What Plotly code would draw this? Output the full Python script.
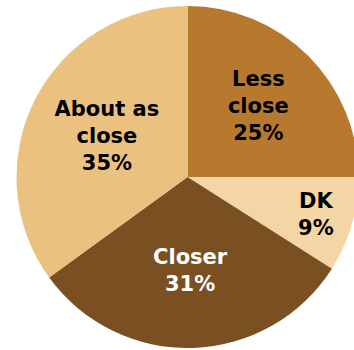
import plotly.graph_objects as go

# Survey responses: share of respondents by answer
labels = ["Less close", "DK", "Closer", "About as close"]
display_names = ["Less<br>close", "DK", "Closer", "About as<br>close"]
values = [25, 9, 31, 35]
colors = ["#B7792E", "#F4D5A6", "#7A5022", "#EBC180"]
text_colors = ["#000000", "#000000", "#FFFFFF", "#000000"]

W, H = 360, 350
cx, cy, r = 187.5, 177.0, 171.0

fig = go.Figure(
    go.Pie(
        labels=labels,
        values=values,
        text=display_names,
        texttemplate="%{text}<br>%{value}%",
        textposition="inside",
        insidetextorientation="horizontal",
        sort=False,
        direction="clockwise",
        rotation=0,
        marker=dict(colors=colors, line=dict(width=0)),
        insidetextfont=dict(family="DejaVu Sans", size=21, color=text_colors, weight="bold"),
        hoverinfo="label+percent",
        showlegend=False,
        domain=dict(
            x=[(cx - r) / W, (cx + r) / W],
            y=[1 - (cy + r) / H, 1 - (cy - r) / H],
        ),
    )
)

fig.update_layout(
    width=W,
    height=H,
    margin=dict(l=0, r=0, t=0, b=0),
    paper_bgcolor="white",
    plot_bgcolor="white",
)

fig.write_html(
    "out.html",
    post_script="document.body.style.margin='0';document.body.style.overflow='hidden';",
)
